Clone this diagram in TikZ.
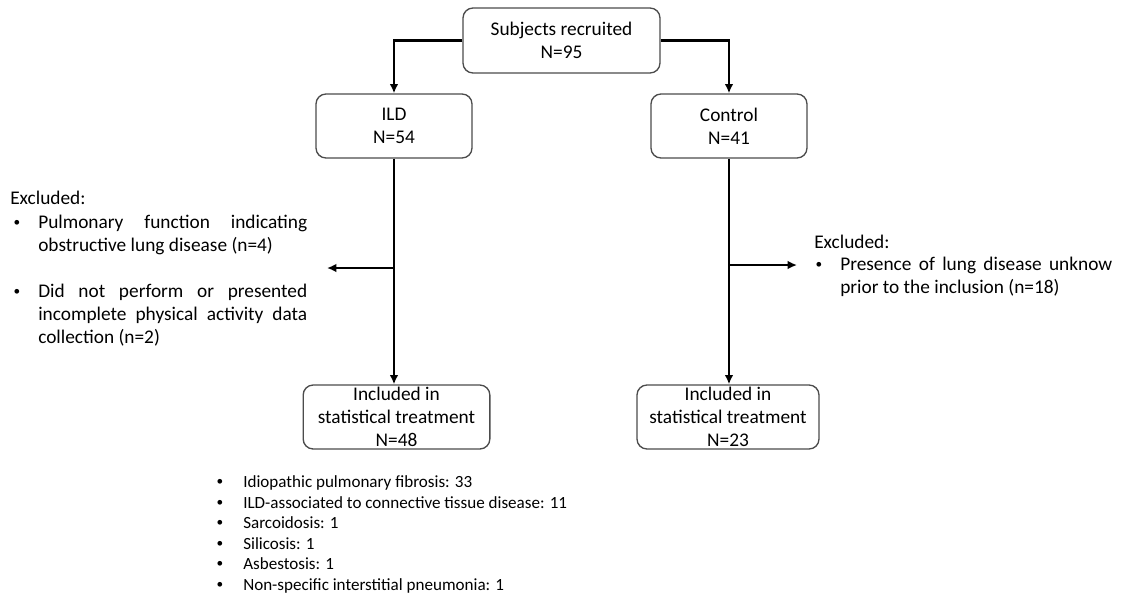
\documentclass[tikz,border=0pt]{standalone}
\usepackage{fontspec}
\setmainfont{Carlito}
\usetikzlibrary{arrows.meta}

\newcommand{\smallbullet}{\raisebox{1.2pt}{\fontsize{10}{10}\selectfont •}}

\begin{document}
\begin{tikzpicture}[x=0.75pt,y=-0.75pt,>={Latex[length=7pt,width=6.5pt]},
  font=\fontsize{14.5}{17.25}\selectfont,
  flowbox/.style={draw=black!70,line width=1pt,rounded corners=7.5pt,
    align=center,inner sep=0pt},
  flowline/.style={line width=2pt},
  justtext/.style={align=justify,inner sep=0pt,anchor=base west,
    execute at begin node={\hyphenpenalty=10000\exhyphenpenalty=10000}},
  bulletmark/.style={inner sep=0pt,anchor=base}]
  \useasboundingbox (0,0) rectangle (1121,593);

  % boxes
  \node[flowbox,minimum width=147.75pt,minimum height=48.75pt] (recruited) at (561.5,40.5)
    {Subjects recruited\\N=95};
  \node[flowbox,minimum width=117pt,minimum height=48pt] (ild) at (394,126)
    {ILD\\N=54};
  \node[flowbox,minimum width=117pt,minimum height=48pt] (control) at (729,126)
    {Control\\N=41};
  \node[flowbox,minimum width=140pt,minimum height=48pt] (inclild) at (396.5,417)
    {Included in\\statistical treatment\\N=48};
  \node[flowbox,minimum width=136.5pt,minimum height=48pt] (inclcontrol) at (728,417)
    {Included in\\statistical treatment\\N=23};

  % connectors
  \draw[flowline,->] (recruited.west) -| (ild.north);
  \draw[flowline,->] (recruited.east) -| (control.north);
  \draw[flowline,->] (ild.south) -- (ild.south |- inclild.north);
  \draw[flowline,->] (control.south) -- (control.south |- inclcontrol.north);
  \coordinate (ildsplit) at (394,268);
  \coordinate (ildout) at (327,268);
  \coordinate (controlsplit) at (729,265);
  \coordinate (controlout) at (797,265);
  \draw[flowline,->] (ildsplit) -- (ildout);
  \draw[flowline,->] (controlsplit) -- (controlout);

  % exclusions, ILD side
  \node[inner sep=0pt,anchor=base west] (exclildhead) at (10,204) {Excluded:};
  \node[bulletmark] (exclildbul1) at (17,228) {\smallbullet};
  \node[justtext,text width=201.75pt] (exclilditem1) at (38,228)
    {Pulmonary function indicating\linebreak obstructive lung disease (n=4)};
  \node[bulletmark] (exclildbul2) at (17,297) {\smallbullet};
  \node[justtext,text width=201.75pt] (exclilditem2) at (38,297)
    {Did not perform or presented\linebreak incomplete physical activity data\linebreak collection (n=2)};

  % exclusions, control side
  \node[inner sep=0pt,anchor=base west] (exclcontrolhead) at (814,248) {Excluded:};
  \node[bulletmark] (exclcontrolbul) at (819,270) {\smallbullet};
  \node[justtext,text width=204pt] (exclcontrolitem) at (840,270)
    {Presence of lung disease unknow\linebreak prior to the inclusion (n=18)};

  % ILD diagnoses
  \foreach \diag [count=\i] in {Idiopathic pulmonary fibrosis: 33,
      ILD-associated to connective tissue disease: 11,
      Sarcoidosis: 1,
      Silicosis: 1,
      Asbestosis: 1,
      Non-specific interstitial pneumonia: 1}{
    \node[bulletmark,font=\fontsize{12.8}{15}\selectfont] (diagbul\i) at (220,467+20.5*\i) {\smallbullet};
    \node[inner sep=0pt,anchor=base west,font=\fontsize{12.8}{15}\selectfont] (diag\i)
      at (243,467+20.5*\i) {\diag};
  }
\end{tikzpicture}
\end{document}
